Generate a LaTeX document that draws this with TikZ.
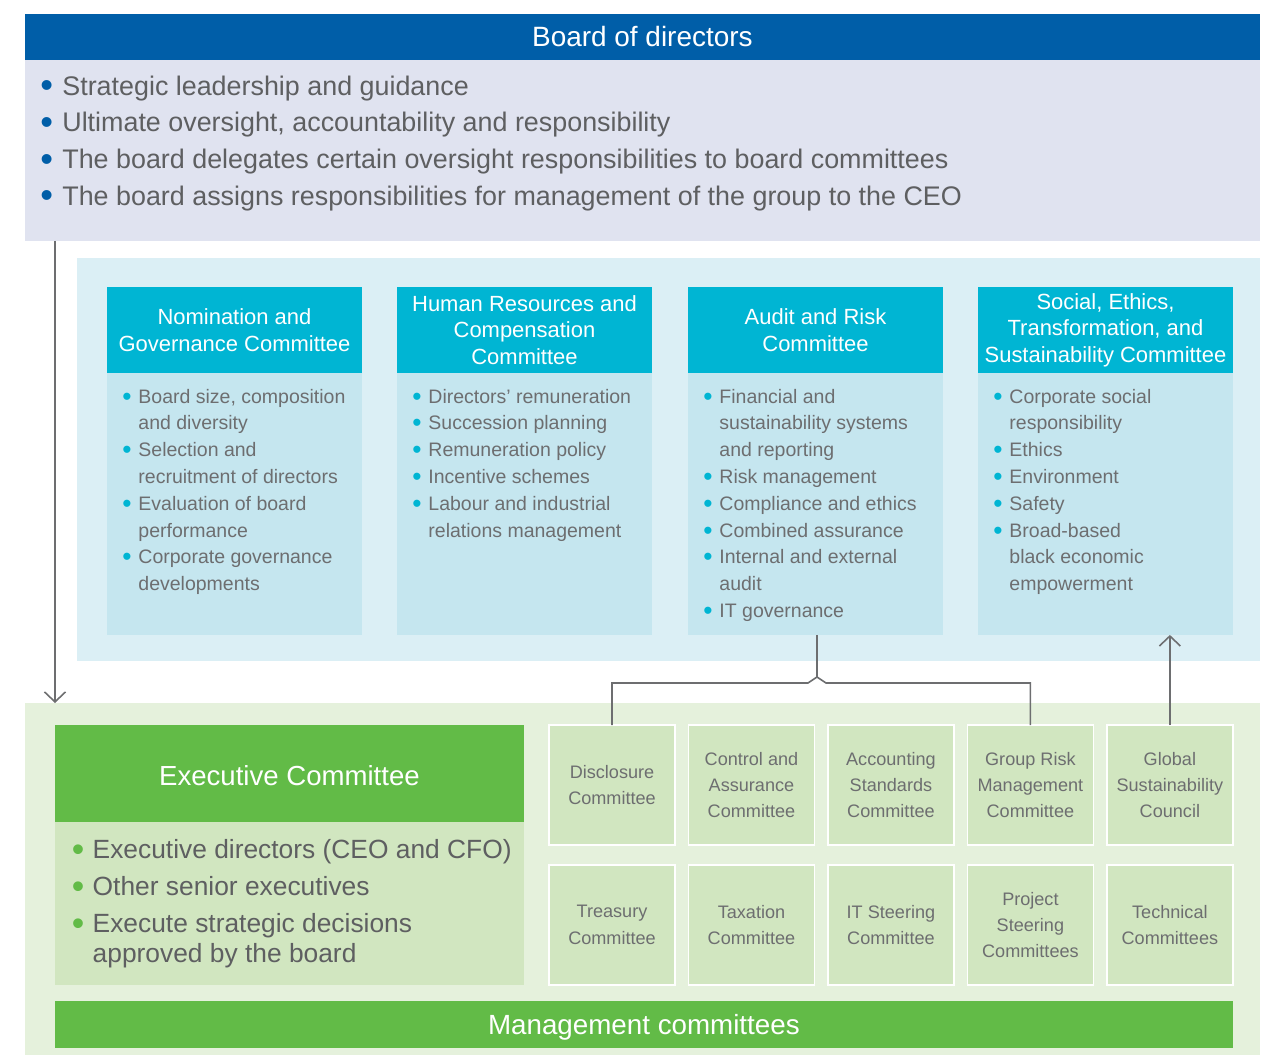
\documentclass[tikz,border=0pt]{standalone}
\usepackage{fontspec}
\setmainfont{Liberation Sans}
\usetikzlibrary{positioning,arrows.meta,calc}
\definecolor{boardBlue}{HTML}{005EA8}
\definecolor{boardLav}{HTML}{E0E3F0}
\definecolor{bandCyan}{HTML}{DBEFF5}
\definecolor{headCyan}{HTML}{00B5D3}
\definecolor{bodyCyan}{HTML}{C5E6EF}
\definecolor{bandGreen}{HTML}{E5F1DC}
\definecolor{headGreen}{HTML}{62BB47}
\definecolor{bodyGreen}{HTML}{D1E6C0}
\definecolor{textGray}{HTML}{6D6E70}
\definecolor{darkGray}{HTML}{5E5F61}
\definecolor{lineGray}{HTML}{6D6E70}
\newcommand{\setfs}[2]{\fontsize{#1pt}{#2pt}\selectfont}
\newcommand{\dotc}[1]{\textcolor{#1}{\raisebox{-0.1em}{\scalebox{1.35}{\textbullet}}}}

\begin{document}
\begin{tikzpicture}[x=0.02cm, y=-0.02cm,
    bandBox/.style={anchor=north west, inner sep=0pt, outer sep=0pt},
    headCom/.style={anchor=north west, fill=headCyan, inner sep=0pt, outer sep=0pt, minimum width=5.1cm, minimum height=1.72cm, text=white, align=center, font=\setfs{12.5}{15}},
    bodyCom/.style={fill=bodyCyan, inner sep=0pt, outer sep=0pt, minimum width=5.1cm, minimum height=5.24cm},
    listCom/.style={anchor=north west, inner sep=0pt, text=textGray, font=\setfs{11.1}{15.25}},
    smallCom/.style={fill=bodyGreen, draw=white, line width=0.8pt, inner sep=0pt, outer sep=0pt, minimum width=2.52cm, minimum height=2.4cm, align=center, text=textGray, font=\setfs{10.3}{15}},
    linkLine/.style={draw=lineGray, line width=0.9pt},
    arrowStyle/.style={linkLine, -{Straight Barb[length=0.2cm, width=0.42cm]}}
]
    \useasboundingbox (0,0) rectangle (1268,1055);

    % board of directors
    \node[bandBox, fill=boardBlue, minimum width=24.7cm, minimum height=0.92cm, text=white, font=\setfs{15.9}{18}] (boardHead) at (25,14) {Board of directors};
    \node[bandBox, fill=boardLav, minimum width=24.7cm, minimum height=3.62cm] (boardBody) at (25,60) {};
    \node[anchor=north west, inner sep=0pt, text=darkGray, font=\setfs{15.3}{20.9}] (boardList) at (40,69) {%
        \begin{tabular}{@{}l@{\hspace{5.3pt}}l@{}}
        \dotc{boardBlue} & Strategic leadership and guidance\\
        \dotc{boardBlue} & Ultimate oversight, accountability and responsibility\\
        \dotc{boardBlue} & The board delegates certain oversight responsibilities to board committees\\
        \dotc{boardBlue} & The board assigns responsibilities for management of the group to the CEO
        \end{tabular}};

    % board committees
    \node[bandBox, fill=bandCyan, minimum width=23.66cm, minimum height=8.06cm] (comBand) at (77,258) {};

    \node[headCom] (nomHead) at (107,287) {Nomination and\\Governance Committee};
    \node[bodyCom, below=0pt of nomHead] (nomBody) {};
    \node[listCom] (nomList) at ([xshift=0.3cm, yshift=-0.22cm]nomBody.north west) {%
        \begin{tabular}{@{}l@{\hspace{3.9pt}}l@{}}
        \dotc{headCyan} & Board size, composition\\
         & and diversity\\
        \dotc{headCyan} & Selection and\\
         & recruitment of directors\\
        \dotc{headCyan} & Evaluation of board\\
         & performance\\
        \dotc{headCyan} & Corporate governance\\
         & developments
        \end{tabular}};

    \node[headCom] (hrHead) at (397,287) {Human Resources and\\Compensation\\Committee};
    \node[bodyCom, below=0pt of hrHead] (hrBody) {};
    \node[listCom] (hrList) at ([xshift=0.3cm, yshift=-0.22cm]hrBody.north west) {%
        \begin{tabular}{@{}l@{\hspace{3.9pt}}l@{}}
        \dotc{headCyan} & Directors’ remuneration\\
        \dotc{headCyan} & Succession planning\\
        \dotc{headCyan} & Remuneration policy\\
        \dotc{headCyan} & Incentive schemes\\
        \dotc{headCyan} & Labour and industrial\\
         & relations management
        \end{tabular}};

    \node[headCom] (arHead) at (688,287) {Audit and Risk\\Committee};
    \node[bodyCom, below=0pt of arHead] (arBody) {};
    \node[listCom] (arList) at ([xshift=0.3cm, yshift=-0.22cm]arBody.north west) {%
        \begin{tabular}{@{}l@{\hspace{3.9pt}}l@{}}
        \dotc{headCyan} & Financial and\\
         & sustainability systems\\
         & and reporting\\
        \dotc{headCyan} & Risk management\\
        \dotc{headCyan} & Compliance and ethics\\
        \dotc{headCyan} & Combined assurance\\
        \dotc{headCyan} & Internal and external\\
         & audit\\
        \dotc{headCyan} & IT governance
        \end{tabular}};

    \node[headCom] (seHead) at (978,287) {Social, Ethics,\\Transformation, and\\Sustainability Committee};
    \node[bodyCom, below=0pt of seHead] (seBody) {};
    \node[listCom] (seList) at ([xshift=0.3cm, yshift=-0.22cm]seBody.north west) {%
        \begin{tabular}{@{}l@{\hspace{3.9pt}}l@{}}
        \dotc{headCyan} & Corporate social\\
         & responsibility\\
        \dotc{headCyan} & Ethics\\
        \dotc{headCyan} & Environment\\
        \dotc{headCyan} & Safety\\
        \dotc{headCyan} & Broad-based\\
         & black economic\\
         & empowerment
        \end{tabular}};

    % management
    \node[bandBox, fill=bandGreen, minimum width=24.7cm, minimum height=7.04cm] (mgmtBand) at (25,703) {};

    \node[bandBox, fill=headGreen, minimum width=9.38cm, minimum height=1.94cm, text=white, font=\setfs{15.7}{18}, text height=13.8pt, text depth=0pt] (exeHead) at (55,725) {Executive Committee};
    \node[fill=bodyGreen, inner sep=0pt, outer sep=0pt, minimum width=9.38cm, minimum height=3.26cm, below=0pt of exeHead] (exeBody) {};
    \node[anchor=north west, inner sep=0pt, text=darkGray, font=\setfs{15}{17}] (exeList) at (71.5,837.5) {%
        \begin{tabular}{@{}l@{\hspace{4.8pt}}l@{}}
        \dotc{headGreen} & Executive directors (CEO and CFO)\\[4pt]
        \dotc{headGreen} & Other senior executives\\[4pt]
        \dotc{headGreen} & Execute strategic decisions\\
         & approved by the board
        \end{tabular}};

    \node[smallCom, anchor=north west] (disc) at (549,725) {Disclosure\\Committee};
    \node[smallCom, right=0.27cm of disc] (ctrl) {Control and\\Assurance\\Committee};
    \node[smallCom, right=0.27cm of ctrl] (acct) {Accounting\\Standards\\Committee};
    \node[smallCom, right=0.27cm of acct] (grm) {Group Risk\\Management\\Committee};
    \node[smallCom, right=0.27cm of grm] (gsc) {Global\\Sustainability\\Council};
    \node[smallCom, below=0.4cm of disc] (treas) {Treasury\\Committee};
    \node[smallCom, below=0.4cm of ctrl] (tax) {Taxation\\Committee};
    \node[smallCom, below=0.4cm of acct] (itsc) {IT Steering\\Committee};
    \node[smallCom, below=0.4cm of grm] (proj) {Project\\Steering\\Committees};
    \node[smallCom, below=0.4cm of gsc] (tech) {Technical\\Committees};

    \node[bandBox, fill=headGreen, minimum width=23.56cm, minimum height=0.94cm, text=white, font=\setfs{15.8}{18}, text height=11.8pt, text depth=0pt] (mgmtBar) at (55,1001) {Management committees};

    % connectors
    \coordinate (hop) at (817,677);
    \coordinate (hopL) at (808,683);
    \coordinate (hopR) at (826,683);
    \draw[linkLine] (arBody.south -| hop) -- (hop);
    \draw[linkLine] (disc.north) |- (hopL) -- (hop) -- (hopR) -| (grm.north);
    \draw[arrowStyle] (gsc.north) -- (gsc.north |- seBody.south);
    \draw[arrowStyle] ([xshift=0.6cm]boardBody.south west) -- ([xshift=0.6cm]mgmtBand.north west);
\end{tikzpicture}
\end{document}
